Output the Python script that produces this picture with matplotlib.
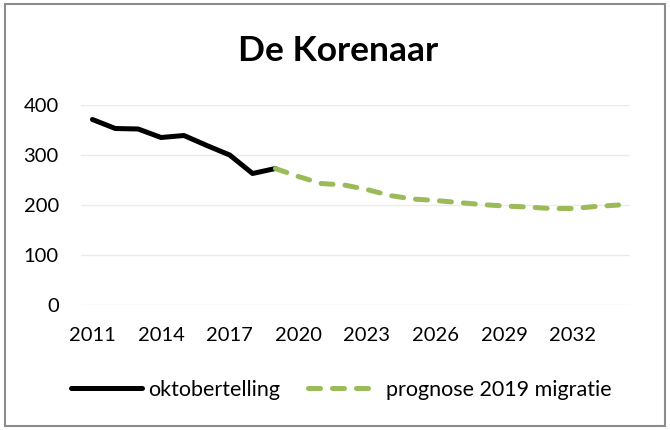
import matplotlib
matplotlib.use("Agg")
import matplotlib.pyplot as plt
from matplotlib.patches import Rectangle

years = list(range(2011, 2035))
okt_years = list(range(2011, 2020))
okt_values = [371, 353, 352, 335, 339, 319, 300, 263, 273]
prog_years = list(range(2019, 2035))
prog_values = [273, 257, 243, 240, 231, 219, 212, 209, 205, 201, 198, 196, 193, 193, 197, 200]
xtick_labels = ["2011", "2014", "2017", "2020", "2023", "2026", "2029", "2032"]
yticks = [0, 100, 200, 300, 400]

plt.rcParams['font.family'] = ['Lato', 'DejaVu Sans']

fig = plt.figure(figsize=(6.7, 4.3), dpi=100)
ax = fig.add_axes([81/670, 1-305/430, (630-81)/670, 200/430])

ax.plot([y - 2011 for y in okt_years], okt_values, color='black', lw=3.6,
        solid_capstyle='round', solid_joinstyle='round', label='oktobertelling')
ax.plot([y - 2011 for y in prog_years], prog_values, color='#9BBB59', lw=3.6,
        dashes=(2.4, 2.4), dash_capstyle='round', label='prognose 2019 migratie')

ax.set_xlim(-0.5, len(years) - 0.5)
ax.set_ylim(0, 400)
ax.set_yticks(yticks)
ax.set_xticks([int(l) - 2011 for l in xtick_labels])
ax.set_xticklabels(xtick_labels)
ax.tick_params(axis='both', length=0, labelsize=14.5, colors='black')
ax.tick_params(axis='y', pad=16)
ax.tick_params(axis='x', pad=15.5)
ax.grid(axis='y', color='#EBEBEB', lw=1)
ax.set_axisbelow(True)
for s in ax.spines.values():
    s.set_visible(False)

fig.text(338/670, 1-51/430, "De Korenaar", ha='center', va='center',
         fontsize=25.5, fontweight='bold')

leg = fig.legend(loc='center', bbox_to_anchor=(341/670, 1-390/430), ncol=2,
                 frameon=False, fontsize=15.5, handlelength=3.3, handletextpad=0.3,
                 columnspacing=1.3)

fig.patches.append(Rectangle((5/670, 4/430), 660/670, 422/430, transform=fig.transFigure,
                             fill=False, edgecolor='#8C8C8C', lw=1.5))

fig.savefig("out.png", dpi=100)
